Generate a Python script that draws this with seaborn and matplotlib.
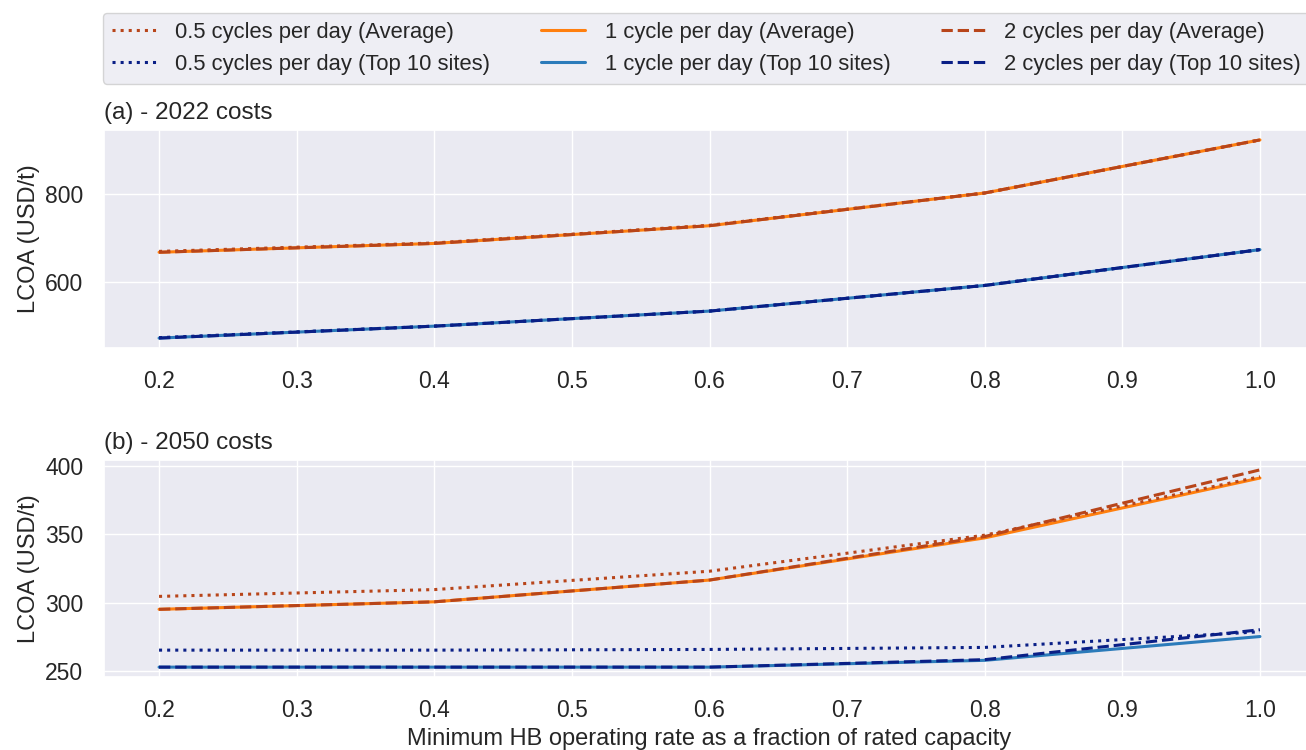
import numpy as np
import pandas as pd
import seaborn as sns
import matplotlib
matplotlib.use("Agg")
import matplotlib.pyplot as plt

# ---- data ----
x_rate = [0.2, 0.4, 0.6, 0.8, 1.0]

# (a) 2022 costs
a_avg_05 = [670, 689, 729, 802, 922]
a_avg_1 = [668, 688, 728, 802, 922]
a_avg_2 = [668, 688, 728, 802, 922]
a_top_05 = [475, 501, 535, 593, 674]
a_top_1 = [474, 501, 535, 593, 674]
a_top_2 = [474, 501, 535, 593, 674]

# (b) 2050 costs
b_avg_05 = [304.5, 309.5, 323, 349.5, 392.5]
b_avg_1 = [295, 300.5, 316.5, 347.5, 391.5]
b_avg_2 = [295, 300.5, 316.5, 348.5, 397.5]
b_top_05 = [265, 265, 265.5, 267, 278.5]
b_top_1 = [252.5, 252.5, 252.5, 257.5, 275]
b_top_2 = [252.5, 252.5, 252.5, 258, 280]

labels = [
    "0.5 cycles per day (Average)",
    "0.5 cycles per day (Top 10 sites)",
    "1 cycle per day (Average)",
    "1 cycle per day (Top 10 sites)",
    "2 cycles per day (Average)",
    "2 cycles per day (Top 10 sites)",
]
titles = ["(a) - 2022 costs", "(b) - 2050 costs"]
xlabel = "Minimum HB operating rate as a fraction of rated capacity"
ylabel = "LCOA (USD/t)"

dark_orange = "#b8451a"
dark_blue = "#0a1f86"
orange = "#ff7f0e"
blue = "#2b7bba"
styles = [
    (dark_orange, ":"),
    (dark_blue, ":"),
    (orange, "-"),
    (blue, "-"),
    (dark_orange, "--"),
    (dark_blue, "--"),
]

sns.set_theme(style="darkgrid")
plt.rcParams["font.family"] = ["Liberation Sans", "DejaVu Sans"]

fig = plt.figure(figsize=(13.06, 7.5), dpi=100)
W, H = 1306, 750
ax_a = fig.add_axes([104 / W, 1 - 348 / H, (1315 - 104) / W, (348 - 130) / H])
ax_b = fig.add_axes([104 / W, 1 - 677 / H, (1315 - 104) / W, (677 - 460) / H])

series_a = [a_avg_05, a_top_05, a_avg_1, a_top_1, a_avg_2, a_top_2]
series_b = [b_avg_05, b_top_05, b_avg_1, b_top_1, b_avg_2, b_top_2]

handles = []
for ax, series, title in [(ax_a, series_a, titles[0]), (ax_b, series_b, titles[1])]:
    # draw solid first, then dotted and dashed on top
    order = [2, 3, 0, 1, 4, 5]
    hs = {}
    for i in order:
        c, ls = styles[i]
        sns.lineplot(x=x_rate, y=series[i], ax=ax, color=c, linestyle=ls,
                     linewidth=2.2, label=labels[i])
        hs[i] = ax.get_lines()[-1]
    if not handles:
        handles = [hs[i] for i in range(6)]
    ax.get_legend().remove()
    ax.set_title(title, loc="left", fontsize=17.5, pad=8)
    ax.set_ylabel(ylabel, fontsize=17)
    ax.tick_params(axis="x", labelsize=16.5, pad=10)
    ax.tick_params(axis="y", labelsize=16.5, pad=9)
    ax.set_xticks([0.2, 0.3, 0.4, 0.5, 0.6, 0.7, 0.8, 0.9, 1.0])
    ax.set_xlim(0.16, 1.04)

ax_a.set_yticks([600, 800])
ax_b.set_yticks([250, 300, 350, 400])
ax_b.set_xlabel(xlabel, fontsize=17, labelpad=4)
ax_a.set_xlabel("")
ax_b.yaxis.set_label_coords(-0.053, 0.5)
ax_a.yaxis.set_label_coords(-0.053, 0.5)

leg = fig.legend(handles, labels, ncol=3, loc="upper left",
                 bbox_to_anchor=(103 / W, 1 - 13 / H), fontsize=15.8,
                 handlelength=2.0, handletextpad=0.9, columnspacing=2.3,
                 frameon=True, facecolor="#eaeaf2", edgecolor="#cccccc",
                 borderaxespad=0, labelspacing=0.5)

fig.savefig("out.png", dpi=100)
